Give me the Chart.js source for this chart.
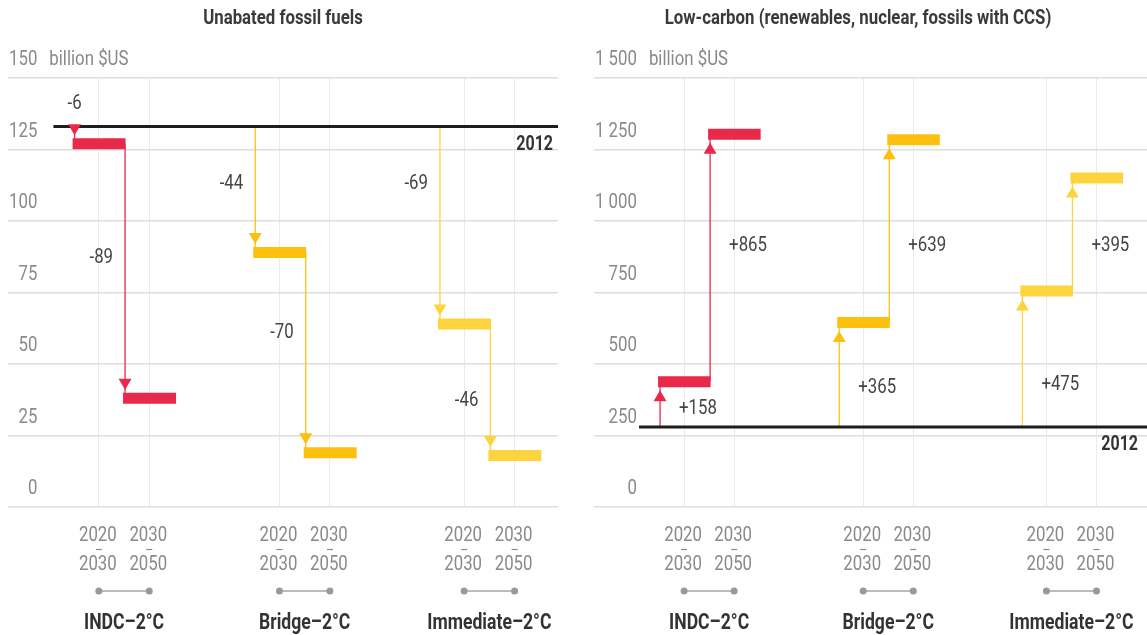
<!DOCTYPE html>
<html>
<head>
<meta charset="utf-8">
<script src="https://cdn.jsdelivr.net/npm/chart.js@4.4.0/dist/chart.umd.min.js"></script>
<style>
  body { margin: 0; background: #fff; }
  #wrap { position: relative; width: 1147px; height: 635px; }
  canvas { position: absolute; top: 0; }
  #c1 { left: 0; }
  #c2 { left: 575px; }
</style>
</head>
<body>
<div id="wrap">
  <canvas id="c1" width="575" height="635"></canvas>
  <canvas id="c2" width="572" height="635"></canvas>
</div>
<script>
const FONT = 'Roboto, "Liberation Sans", sans-serif';
const SQUEEZE = 0.8; // condensed look for every label

const scenarios = ['INDC\u20132°C', 'Bridge\u20132°C', 'Immediate\u20132°C'];
const periods = [['2020', '2030'], ['2030', '2050']];
const scenarioColors = ['#E8294A', '#FDC00F', '#FDD33E'];
const slotX = [0, 1, 3.58, 4.58, 7.24, 8.24];

// unabated fossil fuels, billion $US per year
const fossilBase = 133;
const fossilChange = [[-6, -89], [-44, -70], [-69, -46]];
const fossilTicks = [0, 25, 50, 75, 100, 125, 150];
const fossilLabelY = [141, 87, 113, 61, 113, 37];

// low-carbon supply, billion $US per year
const lowBase = 280;
const lowChange = [[158, 865], [365, 639], [475, 395]];
const lowTicks = [0, 250, 500, 750, 1000, 1250, 1500];
const lowLabelY = [343, 913, 416, 913, 427, 913];

function fmtTick(v) {
  if (v >= 1000) return Math.floor(v / 1000) + ' ' + String(v % 1000).padStart(3, '0');
  return String(v);
}

function setFont(ctx, o) {
  ctx.font = (o.bold ? 'bold ' : '') + o.size + 'px ' + FONT;
}

function textWidth(ctx, s, o) {
  setFont(ctx, o);
  return ctx.measureText(s).width * SQUEEZE;
}

function drawText(ctx, s, x, y, o) {
  ctx.save();
  setFont(ctx, o);
  ctx.fillStyle = o.color;
  ctx.textAlign = o.align || 'left';
  ctx.textBaseline = 'middle';
  ctx.translate(x, y);
  ctx.scale(SQUEEZE, 1);
  ctx.fillText(s, 0, 0);
  ctx.restore();
}

const tickFont = { size: 21, color: '#8a8a8a' };
const valueFont = { size: 21, color: '#444' };

function buildDatasets(base, changes, xMax) {
  const sets = [];
  // 2012 level
  sets.push({
    kind: 'base', data: [{ x: -0.9, y: base }, { x: xMax, y: base }],
    borderColor: '#1e1e1e', borderWidth: 3, pointRadius: 0, order: 0
  });
  changes.forEach((steps, s) => {
    const color = scenarioColors[s];
    let level = base;
    const bars = [];
    steps.forEach((d, k) => {
      const slot = s * 2 + k;
      const cx = slotX[slot];
      const from = level;
      level += d;
      sets.push({
        kind: 'arrow', slot: slot, dir: Math.sign(d), text: (d > 0 ? '+' : '') + d,
        data: [{ x: cx - 0.48, y: from }, { x: cx - 0.48, y: level }],
        borderColor: color, borderWidth: 1.3, pointRadius: 0, order: 2
      });
      bars.push({ x: cx - 0.52, y: level }, { x: cx + 0.53, y: level }, { x: cx, y: null });
    });
    sets.push({
      kind: 'bar', data: bars, borderColor: color, borderWidth: 11,
      borderCapStyle: 'butt', pointRadius: 0, spanGaps: false, order: 1
    });
  });
  return sets;
}

// tick labels, titles, arrowheads, change labels, period labels and scenario names
const decor = {
  id: 'decor',
  afterDatasetsDraw(chart, args, opts) {
    const ctx = chart.ctx;
    const ys = chart.scales.y;
    const xs = chart.scales.x;
    const area = chart.chartArea;
    ctx.save();

    // y tick labels sit just above their grid lines
    const widest = Math.max(...ys.ticks.map(t => textWidth(ctx, fmtTick(t.value), tickFont)));
    ys.ticks.forEach(t => {
      drawText(ctx, fmtTick(t.value), area.left + widest + 1, ys.getPixelForValue(t.value) - 18,
        Object.assign({ align: 'right' }, tickFont));
    });
    const top = ys.ticks[ys.ticks.length - 1].value;
    drawText(ctx, 'billion $US', area.left + widest + 13, ys.getPixelForValue(top) - 18,
      { size: 21, color: '#888' });

    // arrowheads + change labels
    chart.data.datasets.forEach((ds, i) => {
      if (ds.kind !== 'arrow') return;
      const pts = chart.getDatasetMeta(i).data;
      const x = pts[1].x;
      const tip = pts[1].y + (ds.dir < 0 ? -8.5 : 8.5);
      const back = tip + (ds.dir < 0 ? -11 : 11);
      ctx.fillStyle = ds.borderColor;
      ctx.beginPath();
      ctx.moveTo(x, tip);
      ctx.lineTo(x - 6.5, back);
      ctx.lineTo(x + 6.5, back);
      ctx.closePath();
      ctx.fill();

      const ly = ys.getPixelForValue(opts.labelY[ds.slot]);
      if (opts.side === 'right') {
        drawText(ctx, ds.text, x + 19, ly, Object.assign({ align: 'left' }, valueFont));
      } else if (ds.slot === 0) {
        drawText(ctx, ds.text, pts[0].x, ly, Object.assign({ align: 'center' }, valueFont));
      } else {
        drawText(ctx, ds.text, x - 12, ly, Object.assign({ align: 'right' }, valueFont));
      }
    });

    // 2012 tag
    drawText(ctx, '2012', area.right - opts.tagInset, ys.getPixelForValue(opts.base) + 18,
      { size: 20, bold: true, color: '#333', align: 'right' });

    // title
    drawText(ctx, opts.title, 283, 19, { size: 21, bold: true, color: '#3a3a3a', align: 'center' });

    // period labels under each slot
    slotX.forEach((v, i) => {
      const px = xs.getPixelForValue(v);
      const p = periods[i % 2];
      drawText(ctx, p[0], px - 1, 536, Object.assign({ align: 'center' }, tickFont));
      drawText(ctx, p[1], px - 1, 565, Object.assign({ align: 'center' }, tickFont));
      ctx.strokeStyle = '#8a8a8a';
      ctx.lineWidth = 1.2;
      ctx.beginPath();
      ctx.moveTo(px - 3, 549.5);
      ctx.lineTo(px + 3, 549.5);
      ctx.stroke();
    });

    // connectors and scenario names
    scenarios.forEach((name, s) => {
      const a = xs.getPixelForValue(slotX[s * 2]);
      const b = xs.getPixelForValue(slotX[s * 2 + 1]);
      ctx.strokeStyle = '#bcbcbc';
      ctx.lineWidth = 2;
      ctx.beginPath();
      ctx.moveTo(a, 591);
      ctx.lineTo(b, 591);
      ctx.stroke();
      ctx.fillStyle = '#999';
      [a, b].forEach(px => {
        ctx.beginPath();
        ctx.arc(px, 591, 3.5, 0, Math.PI * 2);
        ctx.fill();
      });
      drawText(ctx, name, (a + b) / 2, 623, { size: 22, bold: true, color: '#333', align: 'center' });
    });

    ctx.restore();
  }
};

function makeChart(id, cfg) {
  return new Chart(document.getElementById(id), {
    type: 'line',
    data: { datasets: buildDatasets(cfg.base, cfg.changes, cfg.xMax) },
    options: {
      responsive: false,
      animation: false,
      layout: { padding: cfg.padding },
      plugins: {
        legend: { display: false },
        tooltip: { enabled: false },
        decor: {
          title: cfg.title, labelY: cfg.labelY, side: cfg.side,
          base: cfg.base, tagInset: cfg.tagInset
        }
      },
      scales: {
        x: {
          type: 'linear', min: cfg.xMin, max: cfg.xMax,
          afterBuildTicks: axis => { axis.ticks = slotX.map(v => ({ value: v })); },
          ticks: { display: false },
          grid: { color: '#ebebeb', lineWidth: 1, drawTicks: false },
          border: { display: false }
        },
        y: {
          type: 'linear', min: cfg.ticks[0], max: cfg.ticks[cfg.ticks.length - 1],
          afterBuildTicks: axis => { axis.ticks = cfg.ticks.map(v => ({ value: v })); },
          ticks: { display: false },
          grid: { color: '#dedede', lineWidth: 1.5, drawTicks: false },
          border: { display: false }
        }
      }
    },
    plugins: [decor]
  });
}

makeChart('c1', {
  title: 'Unabated fossil fuels',
  base: fossilBase, changes: fossilChange, ticks: fossilTicks, labelY: fossilLabelY,
  side: 'left', xMin: -1.8, xMax: 9.1, tagInset: 5,
  padding: { left: 8, right: 17, top: 78, bottom: 128 }
});

makeChart('c2', {
  title: 'Low-carbon (renewables, nuclear, fossils with CCS)',
  base: lowBase, changes: lowChange, ticks: lowTicks, labelY: lowLabelY,
  side: 'right', xMin: -1.8, xMax: 9.25, tagInset: 9,
  padding: { left: 19, right: 0, top: 78, bottom: 128 }
});
</script>
</body>
</html>
